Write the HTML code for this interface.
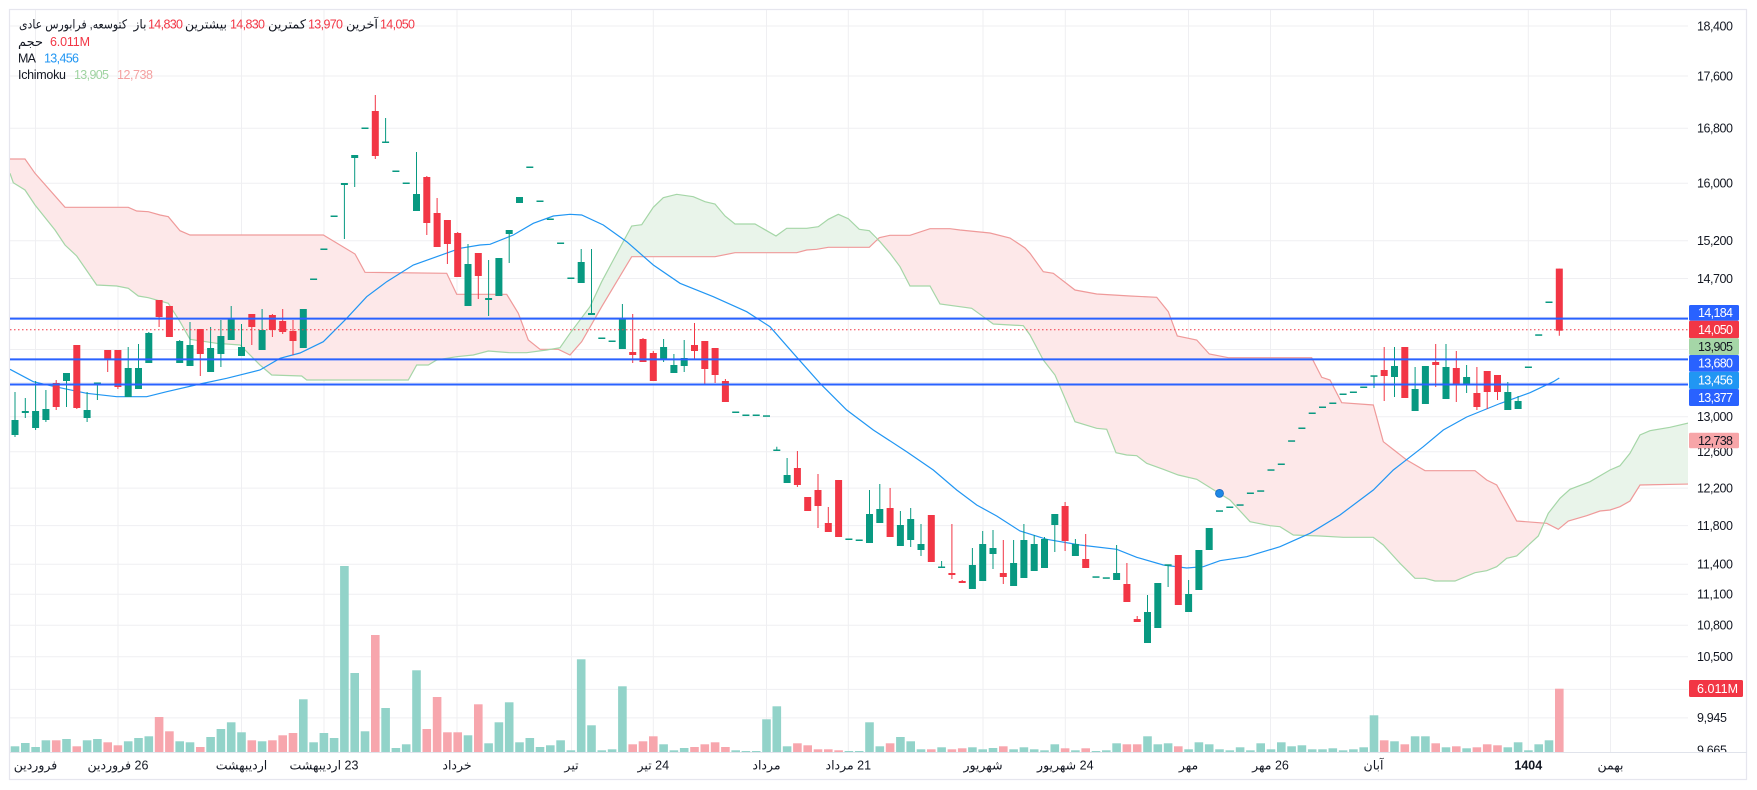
<!DOCTYPE html>
<html><head><meta charset="utf-8"><style>
html,body{margin:0;padding:0;background:#fff;}
svg{display:block;font-family:"Liberation Sans","DejaVu Sans",sans-serif;}
</style></head><body>
<svg width="1757" height="790" viewBox="0 0 1757 790" xmlns="http://www.w3.org/2000/svg">
<defs>
<clipPath id="plot"><rect x="10" y="10" width="1678" height="742"/></clipPath>
<clipPath id="axis"><rect x="1689" y="10" width="58" height="742"/></clipPath>
</defs>
<rect x="0" y="0" width="1757" height="790" fill="#fff"/>
<rect x="9.5" y="9.5" width="1737" height="770" fill="none" stroke="#e6e6ee" stroke-width="1.2"/>
<!-- grid -->
<g stroke="#efeff2" stroke-width="1">
<path d="M10 26H1688M10 76H1688M10 128.3H1688M10 183.2H1688M10 240.8H1688M10 278.5H1688M10 317.4H1688M10 349.5H1688M10 382.6H1688M10 416.7H1688M10 451.8H1688M10 488.1H1688M10 525.6H1688M10 564.3H1688M10 594.3H1688M10 625.2H1688M10 656.8H1688M10 689.4H1688M10 717.9H1688"/>
<path d="M35.5 10V752M118 10V752M241.5 10V752M324 10V752M457 10V752M571.5 10V752M653.3 10V752M766.5 10V752M848.3 10V752M983 10V752M1065.3 10V752M1188.5 10V752M1270.5 10V752M1373.5 10V752M1528.3 10V752M1610.5 10V752"/>
</g>
<line x1="10" y1="752.5" x2="1747" y2="752.5" stroke="#e0e3eb" stroke-width="1"/>
<g clip-path="url(#plot)">
<!-- cloud fills -->
<polygon fill="#fde8e9" points="10,159 25,159 35,173.3 65,207.3 128.3,207.3 136.7,211 148.3,211.7 160,215 168.3,216.7 180,230.7 190,235 323.3,235 355,254 365,272.3 446.7,273.3 456.7,294.3 506.7,294.3 518.3,313.3 528.3,340 540,349.3 555,349.3 546.7,350 526.7,352.7 510,352.7 488.3,351 473.3,355 456.7,356.7 436.7,360 428.3,365 416.7,365 408.3,380 306.7,380 301.7,376 271.7,375 260,365 240,345 216.7,343.3 190,339.3 180,321.7 168.3,303.3 148.3,297.7 138.3,296 128.3,288.3 116.7,286 96.7,285 76.7,256 65,245 55,230 35,205 25,190 13.3,182.7 10,173.3"/>
<polygon fill="#e9f4ea" points="555,349.3 560,347.7 570,333.3 590,306.7 601.7,281.7 613.3,260 631.7,226 641.7,224.7 653.3,207.3 663.3,197.7 676.7,194.3 693.3,196.7 705,201.7 715,204 725,216 735,224 755,224 776,236 786.7,228.3 806.7,228.3 818.3,226.7 828.3,219.3 838.3,214.3 848.3,218.7 859.3,229.3 869.3,230.7 876,239.5 869.3,247.3 828.3,247.3 816.7,249.3 806.7,250 796.7,252.7 735,252.7 715,256.7 631.7,256.7 621.7,273.3 601.7,306.7 581.7,341.7 570,355 558.3,349.3"/>
<polygon fill="#fde8e9" points="876,239.5 879.3,237.7 890,235.3 910,235.3 930,228.7 950,228.7 960,230 990,233 1010,238 1025,248 1030,253.3 1043.3,271.7 1053.3,273.3 1075,290 1096.7,294 1130,296 1156.7,297.3 1168.3,311.7 1177.3,336 1196.7,340 1209.3,354 1228.3,357.7 1311.7,357.7 1321.7,377.3 1330,380 1341.7,402.7 1373.3,405 1383.3,441.7 1406.7,460 1425,470.7 1475,470.7 1486.7,480 1496.7,485 1516.7,521 1538,522.5 1543,523 1538.3,536 1516.7,556 1506.7,558.3 1496.7,566.7 1486.7,570.7 1475,572.7 1455,581 1435,581 1425,578.3 1415,578.3 1400,563.3 1383.3,545 1373.3,537.3 1343.3,537.3 1320,536 1293.3,535 1280,526.7 1270,525.7 1250,521.7 1230,500 1216.7,491.7 1196.7,479.3 1178.3,475 1163.3,469.3 1146.7,463.3 1136.7,455.7 1126.7,455 1116,452.7 1106.7,429.3 1096.7,428.3 1075,421.7 1055,375 1043.3,360 1030,335 1023.3,325.7 993.3,324 983.3,316.7 971.7,308.3 940,304 930,286 910,286 900,266.7 890,253.3 880,241.7"/>
<polygon fill="#e9f4ea" points="1543,523 1548.3,513.3 1560,498.3 1570,489.3 1590,481.7 1610,470 1620,465.7 1630,453.3 1640,435 1650,430.7 1670,427.3 1690,422.7 1690,484 1640,485 1630,501 1620,506.7 1610,510 1600,511 1586.7,515.7 1568.3,521 1558.3,529.3 1546.7,523.3"/>
<!-- cloud lines -->
<polyline fill="none" stroke="#ef9a9a" stroke-width="1.2" points="10,159 25,159 35,173.3 65,207.3 128.3,207.3 136.7,211 148.3,211.7 160,215 168.3,216.7 180,230.7 190,235 323.3,235 355,254 365,272.3 446.7,273.3 456.7,294.3 506.7,294.3 518.3,313.3 528.3,340 540,349.3 558.3,349.3 570,355 581.7,341.7 601.7,306.7 621.7,273.3 631.7,256.7 715,256.7 735,252.7 796.7,252.7 806.7,250 816.7,249.3 828.3,247.3 869.3,247.3 879.3,237.7 890,235.3 910,235.3 930,228.7 950,228.7 960,230 990,233 1010,238 1025,248 1030,253.3 1043.3,271.7 1053.3,273.3 1075,290 1096.7,294 1130,296 1156.7,297.3 1168.3,311.7 1177.3,336 1196.7,340 1209.3,354 1228.3,357.7 1311.7,357.7 1321.7,377.3 1330,380 1341.7,402.7 1373.3,405 1383.3,441.7 1406.7,460 1425,470.7 1475,470.7 1486.7,480 1496.7,485 1516.7,521 1546.7,523.3 1558.3,529.3 1568.3,521 1586.7,515.7 1600,511 1610,510 1620,506.7 1630,501 1640,485 1690,484"/>
<polyline fill="none" stroke="#a5d6a7" stroke-width="1.2" points="10,173.3 13.3,182.7 25,190 35,205 55,230 65,245 76.7,256 96.7,285 116.7,286 128.3,288.3 138.3,296 148.3,297.7 168.3,303.3 180,321.7 190,339.3 216.7,343.3 240,345 260,365 271.7,375 301.7,376 306.7,380 408.3,380 416.7,365 428.3,365 436.7,360 456.7,356.7 473.3,355 488.3,351 510,352.7 526.7,352.7 546.7,350 560,347.7 570,333.3 590,306.7 601.7,281.7 613.3,260 631.7,226 641.7,224.7 653.3,207.3 663.3,197.7 676.7,194.3 693.3,196.7 705,201.7 715,204 725,216 735,224 755,224 776,236 786.7,228.3 806.7,228.3 818.3,226.7 828.3,219.3 838.3,214.3 848.3,218.7 859.3,229.3 869.3,230.7 880,241.7 890,253.3 900,266.7 910,286 930,286 940,304 971.7,308.3 983.3,316.7 993.3,324 1023.3,325.7 1030,335 1043.3,360 1055,375 1075,421.7 1096.7,428.3 1106.7,429.3 1116,452.7 1126.7,455 1136.7,455.7 1146.7,463.3 1163.3,469.3 1178.3,475 1196.7,479.3 1216.7,491.7 1230,500 1250,521.7 1270,525.7 1280,526.7 1293.3,535 1320,536 1343.3,537.3 1373.3,537.3 1383.3,545 1400,563.3 1415,578.3 1425,578.3 1435,581 1455,581 1475,572.7 1486.7,570.7 1496.7,566.7 1506.7,558.3 1516.7,556 1538.3,536 1548.3,513.3 1560,498.3 1570,489.3 1590,481.7 1610,470 1620,465.7 1630,453.3 1640,435 1650,430.7 1670,427.3 1690,422.7"/>
<!-- volume -->
<g fill="#92d3c9">
<rect x="10.7" y="746.3" width="8.6" height="5.7"/><rect x="21" y="743" width="8.6" height="9"/><rect x="31.3" y="747" width="8.6" height="5"/><rect x="41.6" y="740.3" width="8.6" height="11.7"/><rect x="62.2" y="739" width="8.6" height="13"/><rect x="82.8" y="740.3" width="8.6" height="11.7"/><rect x="93.1" y="739" width="8.6" height="13"/><rect x="123.9" y="741.3" width="8.6" height="10.7"/><rect x="134.2" y="738" width="8.6" height="14"/><rect x="144.5" y="736.3" width="8.6" height="15.7"/><rect x="175.4" y="741.3" width="8.6" height="10.7"/><rect x="185.7" y="742.3" width="8.6" height="9.7"/><rect x="206.3" y="737" width="8.6" height="15"/><rect x="216.6" y="729" width="8.6" height="23"/><rect x="226.9" y="722.3" width="8.6" height="29.7"/><rect x="237.2" y="732.3" width="8.6" height="19.7"/><rect x="257.8" y="741.3" width="8.6" height="10.7"/><rect x="299" y="699.3" width="8.6" height="52.7"/><rect x="309.3" y="742.3" width="8.6" height="9.7"/><rect x="319.6" y="733" width="8.6" height="19"/><rect x="329.8" y="738" width="8.6" height="14"/><rect x="340.1" y="566" width="8.6" height="186"/><rect x="350.4" y="673" width="8.6" height="79"/><rect x="360.7" y="731.3" width="8.6" height="20.7"/><rect x="381.3" y="708" width="8.6" height="44"/><rect x="391.6" y="748" width="8.6" height="4"/><rect x="401.9" y="744.3" width="8.6" height="7.7"/><rect x="412.2" y="670.3" width="8.6" height="81.7"/><rect x="463.7" y="735.3" width="8.6" height="16.7"/><rect x="484.3" y="743.3" width="8.6" height="8.7"/><rect x="494.6" y="722.3" width="8.6" height="29.7"/><rect x="504.9" y="702.3" width="8.6" height="49.7"/><rect x="515.2" y="742.3" width="8.6" height="9.7"/><rect x="525.5" y="738" width="8.6" height="14"/><rect x="535.7" y="747" width="8.6" height="5"/><rect x="546" y="745.3" width="8.6" height="6.7"/><rect x="556.3" y="740.3" width="8.6" height="11.7"/><rect x="566.6" y="750.3" width="8.6" height="1.7"/><rect x="576.9" y="659.3" width="8.6" height="92.7"/><rect x="587.2" y="725.3" width="8.6" height="26.7"/><rect x="597.5" y="750.3" width="8.6" height="1.7"/><rect x="607.8" y="749.3" width="8.6" height="2.7"/><rect x="618.1" y="686.3" width="8.6" height="65.7"/><rect x="659.3" y="744.3" width="8.6" height="7.7"/><rect x="669.6" y="750.3" width="8.6" height="1.7"/><rect x="679.9" y="748" width="8.6" height="4"/><rect x="731.4" y="750.3" width="8.6" height="1.7"/><rect x="741.6" y="751" width="8.6" height="1"/><rect x="751.9" y="751" width="8.6" height="1"/><rect x="762.2" y="719.3" width="8.6" height="32.7"/><rect x="772.5" y="706.3" width="8.6" height="45.7"/><rect x="782.8" y="746.3" width="8.6" height="5.7"/><rect x="844.6" y="751" width="8.6" height="1"/><rect x="854.9" y="751" width="8.6" height="1"/><rect x="865.2" y="722.3" width="8.6" height="29.7"/><rect x="875.5" y="746.3" width="8.6" height="5.7"/><rect x="896.1" y="737" width="8.6" height="15"/><rect x="906.4" y="741.3" width="8.6" height="10.7"/><rect x="916.7" y="749.3" width="8.6" height="2.7"/><rect x="937.3" y="747.3" width="8.6" height="4.7"/><rect x="968.1" y="747.3" width="8.6" height="4.7"/><rect x="978.4" y="749.3" width="8.6" height="2.7"/><rect x="988.7" y="748" width="8.6" height="4"/><rect x="1009.3" y="749.3" width="8.6" height="2.7"/><rect x="1019.6" y="747.3" width="8.6" height="4.7"/><rect x="1029.9" y="749.3" width="8.6" height="2.7"/><rect x="1040.2" y="750.3" width="8.6" height="1.7"/><rect x="1050.5" y="744.3" width="8.6" height="7.7"/><rect x="1071.1" y="750.3" width="8.6" height="1.7"/><rect x="1091.7" y="751" width="8.6" height="1"/><rect x="1102" y="750.3" width="8.6" height="1.7"/><rect x="1112.3" y="743.3" width="8.6" height="8.7"/><rect x="1143.2" y="736.3" width="8.6" height="15.7"/><rect x="1153.5" y="744.3" width="8.6" height="7.7"/><rect x="1163.8" y="743.3" width="8.6" height="8.7"/><rect x="1184.3" y="749.3" width="8.6" height="2.7"/><rect x="1194.6" y="742.3" width="8.6" height="9.7"/><rect x="1204.9" y="744.3" width="8.6" height="7.7"/><rect x="1215.2" y="749.3" width="8.6" height="2.7"/><rect x="1225.5" y="750.3" width="8.6" height="1.7"/><rect x="1235.8" y="747.3" width="8.6" height="4.7"/><rect x="1246.1" y="750.3" width="8.6" height="1.7"/><rect x="1256.4" y="743.3" width="8.6" height="8.7"/><rect x="1266.7" y="749.3" width="8.6" height="2.7"/><rect x="1277" y="742.3" width="8.6" height="9.7"/><rect x="1287.3" y="746.3" width="8.6" height="5.7"/><rect x="1297.6" y="745.3" width="8.6" height="6.7"/><rect x="1307.9" y="749.3" width="8.6" height="2.7"/><rect x="1318.2" y="749.3" width="8.6" height="2.7"/><rect x="1328.5" y="748.3" width="8.6" height="3.7"/><rect x="1338.8" y="750.3" width="8.6" height="1.7"/><rect x="1349.1" y="749.3" width="8.6" height="2.7"/><rect x="1359.4" y="747.3" width="8.6" height="4.7"/><rect x="1369.7" y="715.3" width="8.6" height="36.7"/><rect x="1390.2" y="741.3" width="8.6" height="10.7"/><rect x="1410.8" y="736.3" width="8.6" height="15.7"/><rect x="1421.1" y="736.3" width="8.6" height="15.7"/><rect x="1441.7" y="747.3" width="8.6" height="4.7"/><rect x="1462.3" y="748.3" width="8.6" height="3.7"/><rect x="1503.5" y="747.3" width="8.6" height="4.7"/><rect x="1513.8" y="742.3" width="8.6" height="9.7"/><rect x="1524.1" y="750.3" width="8.6" height="1.7"/><rect x="1534.4" y="744.3" width="8.6" height="7.7"/><rect x="1544.7" y="740.3" width="8.6" height="11.7"/>
</g>
<g fill="#f7a6ad">
<rect x="51.9" y="740.3" width="8.6" height="11.7"/><rect x="72.5" y="746.3" width="8.6" height="5.7"/><rect x="103.4" y="742.3" width="8.6" height="9.7"/><rect x="113.6" y="745.3" width="8.6" height="6.7"/><rect x="154.8" y="717" width="8.6" height="35"/><rect x="165.1" y="731.3" width="8.6" height="20.7"/><rect x="196" y="747" width="8.6" height="5"/><rect x="247.5" y="740.3" width="8.6" height="11.7"/><rect x="268.1" y="740.3" width="8.6" height="11.7"/><rect x="278.4" y="735.3" width="8.6" height="16.7"/><rect x="288.7" y="733" width="8.6" height="19"/><rect x="371" y="635" width="8.6" height="117"/><rect x="422.5" y="729" width="8.6" height="23"/><rect x="432.8" y="697" width="8.6" height="55"/><rect x="443.1" y="732.3" width="8.6" height="19.7"/><rect x="453.4" y="732.3" width="8.6" height="19.7"/><rect x="474" y="704.3" width="8.6" height="47.7"/><rect x="628.4" y="744.3" width="8.6" height="7.7"/><rect x="638.7" y="741.3" width="8.6" height="10.7"/><rect x="649" y="736.3" width="8.6" height="15.7"/><rect x="690.2" y="747" width="8.6" height="5"/><rect x="700.5" y="744.3" width="8.6" height="7.7"/><rect x="710.8" y="742.3" width="8.6" height="9.7"/><rect x="721.1" y="747" width="8.6" height="5"/><rect x="793.1" y="743.3" width="8.6" height="8.7"/><rect x="803.4" y="745.3" width="8.6" height="6.7"/><rect x="813.7" y="749.3" width="8.6" height="2.7"/><rect x="824" y="749.3" width="8.6" height="2.7"/><rect x="834.3" y="750.3" width="8.6" height="1.7"/><rect x="885.8" y="743.3" width="8.6" height="8.7"/><rect x="927" y="749.3" width="8.6" height="2.7"/><rect x="947.6" y="749.3" width="8.6" height="2.7"/><rect x="957.9" y="748.3" width="8.6" height="3.7"/><rect x="999" y="746.3" width="8.6" height="5.7"/><rect x="1060.8" y="748.3" width="8.6" height="3.7"/><rect x="1081.4" y="748.3" width="8.6" height="3.7"/><rect x="1122.6" y="744.3" width="8.6" height="7.7"/><rect x="1132.9" y="744.3" width="8.6" height="7.7"/><rect x="1174" y="746.3" width="8.6" height="5.7"/><rect x="1379.9" y="740.3" width="8.6" height="11.7"/><rect x="1400.5" y="744.3" width="8.6" height="7.7"/><rect x="1431.4" y="743.3" width="8.6" height="8.7"/><rect x="1452" y="746.3" width="8.6" height="5.7"/><rect x="1472.6" y="747.3" width="8.6" height="4.7"/><rect x="1482.9" y="744.3" width="8.6" height="7.7"/><rect x="1493.2" y="745.3" width="8.6" height="6.7"/><rect x="1555" y="688.7" width="8.6" height="63.3"/>
</g>
<!-- MA -->
<polyline fill="none" stroke="#2196f3" stroke-width="1.2" points="10,369.3 33.3,381.7 55,386.7 86.7,393.3 116.7,396.7 146.7,396.7 166.7,391.7 200,384 226.7,378.3 260,370 280,358.3 300,353 323.3,341.7 346.7,318.3 366.7,296.7 386.7,281.7 413.3,265 436.7,256.7 460,248.3 480,245 490,244.3 513.3,235 533.3,223.3 553.3,216 570,214.3 581.7,215 603.3,225 626.7,241.7 653.3,265 680,283.3 713.3,296.7 746.7,311.7 770,326.7 793.3,353.3 820,383.3 846.7,410 873.3,430 906.7,451.7 933.3,470 956.7,490 976.7,505 996.7,516 1020,531 1046.7,539.3 1080,545 1116.7,549.3 1136.7,557.3 1163.3,565 1186.7,568 1203.3,566.7 1220,560.7 1246.7,556.7 1280,546.7 1310,533.3 1340,515 1373.3,490 1393.3,470 1423.3,446.7 1443.3,430 1466.7,417 1500,403.5 1530,392.7 1553.3,381.7 1559.3,378"/>
<!-- candles green -->
<path fill="none" stroke="#089981" stroke-width="1" d="M15 392V437M25.3 398V418M35.6 381V430M45.9 390V422M66.5 373V407M87.1 392V422M97.4 383V400M128.2 347V397M138.5 344V389M148.8 332V363M179.7 340V363M190 322V366M210.6 327V372M220.9 320V367M231.2 306V340M241.5 324V356M262.1 309V350M344.4 183V239M354.7 155V187M385.6 118V143M416.5 152V211M468 244V306M488.6 260V316M509.2 230V263M581.2 249V283M591.5 249V315M622.4 304V349M663.6 339V362M673.9 354V373M684.2 340V372M776.8 446.7V450.3M787.1 458V483M869.5 490V543M879.8 484V523M900.4 511V546M910.7 508V547M921 524V556M941.6 561V567M972.4 548V589M982.7 531V581M993 530V569M1013.6 540V586M1023.9 524V578M1034.2 535V571M1044.5 537V568M1054.8 514V552M1075.4 539V556M1116.6 545V580M1147.5 595V643M1168.1 565V587M1188.6 580V612M1374 376V388M1394.5 347V397M1415.1 367V411M1446 344V399M1466.6 365V393M1507.8 382V410M1518.1 396V409"/>
<g fill="#089981">
<rect x="11.5" y="420" width="7" height="15"/><rect x="21.8" y="411" width="7" height="2"/><rect x="32.1" y="411" width="7" height="17"/><rect x="42.4" y="409" width="7" height="11"/><rect x="63" y="373" width="7" height="8"/><rect x="83.6" y="410" width="7" height="8"/><rect x="93.9" y="382.5" width="7" height="1.5"/><rect x="124.7" y="368" width="7" height="29"/><rect x="135" y="368" width="7" height="21"/><rect x="145.3" y="333" width="7" height="30"/><rect x="176.2" y="341" width="7" height="22"/><rect x="186.5" y="345" width="7" height="21"/><rect x="207.1" y="348" width="7" height="24"/><rect x="217.4" y="336" width="7" height="18"/><rect x="227.7" y="319" width="7" height="21"/><rect x="238" y="347" width="7" height="9"/><rect x="258.6" y="330" width="7" height="20"/><rect x="299.8" y="309" width="7" height="39"/><rect x="310.1" y="278.5" width="7" height="1.5"/><rect x="320.4" y="248.5" width="7" height="1.5"/><rect x="330.6" y="215.5" width="7" height="1.5"/><rect x="340.9" y="183" width="7" height="2"/><rect x="351.2" y="155" width="7" height="3"/><rect x="361.5" y="127.5" width="7" height="1.5"/><rect x="382.1" y="141.5" width="7" height="1.5"/><rect x="392.4" y="170.5" width="7" height="1.5"/><rect x="402.7" y="182.5" width="7" height="1.5"/><rect x="413" y="194" width="7" height="17"/><rect x="464.5" y="264" width="7" height="42"/><rect x="485.1" y="298" width="7" height="2"/><rect x="495.4" y="258" width="7" height="38"/><rect x="505.7" y="230" width="7" height="4"/><rect x="516" y="197" width="7" height="6"/><rect x="526.3" y="166.5" width="7" height="1.5"/><rect x="536.5" y="200.5" width="7" height="1.5"/><rect x="546.8" y="218.5" width="7" height="1.5"/><rect x="557.1" y="242.5" width="7" height="1.5"/><rect x="567.4" y="277.5" width="7" height="1.5"/><rect x="577.7" y="262" width="7" height="21"/><rect x="588" y="313" width="7" height="2"/><rect x="598.3" y="337.5" width="7" height="1.5"/><rect x="608.6" y="340.5" width="7" height="1.5"/><rect x="618.9" y="318" width="7" height="31"/><rect x="660.1" y="347" width="7" height="13"/><rect x="670.4" y="365" width="7" height="8"/><rect x="680.7" y="358" width="7" height="8"/><rect x="732.2" y="411.5" width="7" height="1.5"/><rect x="742.4" y="414.5" width="7" height="1.5"/><rect x="752.7" y="414.5" width="7" height="1.5"/><rect x="763" y="415.3" width="7" height="1.5"/><rect x="773.3" y="449.5" width="7" height="1.5"/><rect x="783.6" y="475" width="7" height="8"/><rect x="845.4" y="538.5" width="7" height="1.5"/><rect x="855.7" y="539.5" width="7" height="1.5"/><rect x="866" y="514" width="7" height="29"/><rect x="876.3" y="509" width="7" height="14"/><rect x="896.9" y="525" width="7" height="21"/><rect x="907.2" y="519" width="7" height="21"/><rect x="917.5" y="544" width="7" height="6"/><rect x="938.1" y="566.5" width="7" height="1.5"/><rect x="968.9" y="565" width="7" height="24"/><rect x="979.2" y="544" width="7" height="37"/><rect x="989.5" y="548" width="7" height="6"/><rect x="1010.1" y="563" width="7" height="23"/><rect x="1020.4" y="540" width="7" height="38"/><rect x="1030.7" y="544" width="7" height="27"/><rect x="1041" y="539" width="7" height="29"/><rect x="1051.3" y="514" width="7" height="11"/><rect x="1071.9" y="544" width="7" height="12"/><rect x="1092.5" y="576.3" width="7" height="1.5"/><rect x="1102.8" y="577.3" width="7" height="1.5"/><rect x="1113.1" y="573" width="7" height="7"/><rect x="1144" y="612" width="7" height="31"/><rect x="1154.3" y="583" width="7" height="45"/><rect x="1164.6" y="564.3" width="7" height="1.5"/><rect x="1185.1" y="594" width="7" height="18"/><rect x="1195.4" y="550" width="7" height="40"/><rect x="1205.7" y="528" width="7" height="22"/><rect x="1216" y="510.3" width="7" height="1.5"/><rect x="1226.3" y="506.5" width="7" height="1.5"/><rect x="1236.6" y="504.3" width="7" height="1.5"/><rect x="1246.9" y="492.5" width="7" height="1.5"/><rect x="1257.2" y="490.3" width="7" height="1.5"/><rect x="1267.5" y="469.3" width="7" height="1.5"/><rect x="1277.8" y="463.5" width="7" height="1.5"/><rect x="1288.1" y="440.3" width="7" height="1.5"/><rect x="1298.4" y="427.5" width="7" height="1.5"/><rect x="1308.7" y="412.5" width="7" height="1.5"/><rect x="1319" y="406.5" width="7" height="1.5"/><rect x="1329.3" y="402.5" width="7" height="1.5"/><rect x="1339.6" y="393.5" width="7" height="1.5"/><rect x="1349.9" y="391.5" width="7" height="1.5"/><rect x="1360.2" y="386.5" width="7" height="1.5"/><rect x="1370.5" y="375.3" width="7" height="1.5"/><rect x="1391" y="366" width="7" height="11"/><rect x="1411.6" y="389" width="7" height="22"/><rect x="1421.9" y="366" width="7" height="38"/><rect x="1442.5" y="367" width="7" height="32"/><rect x="1463.1" y="377" width="7" height="7"/><rect x="1504.3" y="392" width="7" height="18"/><rect x="1514.6" y="401" width="7" height="8"/><rect x="1524.9" y="366.5" width="7" height="1.5"/><rect x="1535.2" y="334.3" width="7" height="1.5"/><rect x="1545.5" y="301.5" width="7" height="1.5"/>
</g>
<!-- candles red -->
<path fill="none" stroke="#f23645" stroke-width="1" d="M56.2 380V410M76.8 345V409M107.7 350V372M117.9 350V389M159.1 300V327M200.3 329V376M251.8 314V345M272.4 314V337M282.7 309V334M293 320V355M375.3 95V159M426.8 176V235M437.1 198V247M447.4 220V264M457.7 232V277M478.3 253V299M632.7 314V363M643 338V362M653.3 351V381M694.5 323V359M704.8 341V384M715.1 348V383M725.4 379V402M797.4 451V487M818 474V528M828.3 507V532M890.1 488V537M951.9 524V579M962.2 580V583M1003.3 540V584M1065.1 502V551M1085.7 534V568M1126.9 563V602M1137.2 616V622M1384.2 347V401M1435.7 344V387M1456.3 351V402M1476.9 367V410M1487.2 371V409M1497.5 375V400M1559.3 268.6V335.7"/>
<g fill="#f23645">
<rect x="52.7" y="383" width="7" height="24"/><rect x="73.3" y="345" width="7" height="63"/><rect x="104.2" y="350" width="7" height="9"/><rect x="114.4" y="350" width="7" height="37"/><rect x="155.6" y="300" width="7" height="17"/><rect x="165.9" y="306" width="7" height="31"/><rect x="196.8" y="329" width="7" height="25"/><rect x="248.3" y="314" width="7" height="13"/><rect x="268.9" y="315" width="7" height="15"/><rect x="279.2" y="321" width="7" height="11"/><rect x="289.5" y="331" width="7" height="10"/><rect x="371.8" y="111" width="7" height="45"/><rect x="423.3" y="177" width="7" height="46"/><rect x="433.6" y="213" width="7" height="34"/><rect x="443.9" y="220" width="7" height="24"/><rect x="454.2" y="233" width="7" height="44"/><rect x="474.8" y="253" width="7" height="23"/><rect x="629.2" y="352" width="7" height="3"/><rect x="639.5" y="339" width="7" height="23"/><rect x="649.8" y="353" width="7" height="28"/><rect x="691" y="345" width="7" height="6"/><rect x="701.3" y="341" width="7" height="28"/><rect x="711.6" y="348" width="7" height="27"/><rect x="721.9" y="381" width="7" height="21"/><rect x="793.9" y="468" width="7" height="17"/><rect x="804.2" y="497" width="7" height="14"/><rect x="814.5" y="490" width="7" height="16"/><rect x="824.8" y="523" width="7" height="9"/><rect x="835.1" y="480" width="7" height="57"/><rect x="886.6" y="508" width="7" height="29"/><rect x="927.8" y="515" width="7" height="47"/><rect x="948.4" y="573" width="7" height="2"/><rect x="958.7" y="581" width="7" height="2"/><rect x="999.8" y="573" width="7" height="4"/><rect x="1061.6" y="506" width="7" height="35"/><rect x="1082.2" y="559" width="7" height="9"/><rect x="1123.4" y="584" width="7" height="18"/><rect x="1133.7" y="619" width="7" height="3"/><rect x="1174.8" y="555" width="7" height="50"/><rect x="1380.7" y="370" width="7" height="6"/><rect x="1401.3" y="347" width="7" height="51"/><rect x="1432.2" y="362" width="7" height="3"/><rect x="1452.8" y="368" width="7" height="16"/><rect x="1473.4" y="393" width="7" height="14"/><rect x="1483.7" y="371" width="7" height="21"/><rect x="1494" y="375" width="7" height="17"/><rect x="1555.8" y="268.6" width="7" height="62.1"/>
</g>
<!-- horizontal drawings -->
<g stroke="#2962ff" stroke-width="2">
<line x1="10" y1="318.6" x2="1688" y2="318.6"/>
<line x1="10" y1="359.4" x2="1688" y2="359.4"/>
<line x1="10" y1="384.5" x2="1688" y2="384.5"/>
</g>
<line x1="10" y1="329.8" x2="1688" y2="329.8" stroke="#f23645" stroke-width="1" stroke-dasharray="1.5 2.5"/>
<circle cx="1219.5" cy="493.4" r="4" fill="#1e88e5" stroke="#1565c0" stroke-width="0.8"/>
</g>
<!-- price axis -->
<g clip-path="url(#axis)" fill="#131722" font-size="12.5">
<text x="1697" y="30.3" textLength="36">18,400</text>
<text x="1697" y="80.3" textLength="36">17,600</text>
<text x="1697" y="132.6" textLength="36">16,800</text>
<text x="1697" y="187.5" textLength="36">16,000</text>
<text x="1697" y="245.1" textLength="36">15,200</text>
<text x="1697" y="282.8" textLength="36">14,700</text>
<text x="1697" y="421" textLength="36">13,000</text>
<text x="1697" y="456.1" textLength="36">12,600</text>
<text x="1697" y="492.4" textLength="36">12,200</text>
<text x="1697" y="529.9" textLength="36">11,800</text>
<text x="1697" y="568.6" textLength="36">11,400</text>
<text x="1697" y="598.6" textLength="36">11,100</text>
<text x="1697" y="629.5" textLength="36">10,800</text>
<text x="1697" y="661.1" textLength="36">10,500</text>
<text x="1697" y="722.2" textLength="30">9,945</text>
<text x="1697" y="754.3" textLength="30">9,665</text>
</g>
<!-- axis boxes -->
<g font-size="12.5">
<rect x="1689" y="305" width="50" height="15.7" rx="1.5" fill="#2962ff"/><text x="1698" y="317.2" fill="#fff" textLength="35">14,184</text>
<rect x="1689" y="320.7" width="50" height="17.6" rx="1.5" fill="#f23645"/><text x="1698" y="333.8" fill="#fff" textLength="35">14,050</text>
<rect x="1689" y="338.3" width="50" height="16.7" rx="1.5" fill="#a5d6a7"/><text x="1698" y="350.9" fill="#131722" textLength="35">13,905</text>
<rect x="1689" y="355" width="50" height="16.7" rx="1.5" fill="#2962ff"/><text x="1698" y="367.6" fill="#fff" textLength="35">13,680</text>
<rect x="1689" y="371.7" width="50" height="17.3" rx="1.5" fill="#2196f3"/><text x="1698" y="384.6" fill="#fff" textLength="35">13,456</text>
<rect x="1689" y="389" width="50" height="17" rx="1.5" fill="#2962ff"/><text x="1698" y="401.8" fill="#fff" textLength="35">13,377</text>
<rect x="1689" y="432.7" width="50" height="15.6" rx="1.5" fill="#f7a5a8"/><text x="1698" y="444.8" fill="#131722" textLength="35">12,738</text>
<rect x="1689" y="680" width="54" height="17" rx="1.5" fill="#f23645"/><text x="1697" y="692.8" fill="#fff" textLength="41">6.011M</text>
</g>
<!-- time axis -->
<g fill="#131722" font-size="12.5" text-anchor="middle">
<text x="35.5" y="769.5" direction="rtl">فروردین</text>
<text x="118" y="769.5" direction="rtl">26 فروردین</text>
<text x="241.5" y="769.5" direction="rtl">اردیبهشت</text>
<text x="324" y="769.5" direction="rtl">23 اردیبهشت</text>
<text x="457" y="769.5" direction="rtl">خرداد</text>
<text x="571.5" y="769.5" direction="rtl">تیر</text>
<text x="653.3" y="769.5" direction="rtl">24 تیر</text>
<text x="766.5" y="769.5" direction="rtl">مرداد</text>
<text x="848.3" y="769.5" direction="rtl">21 مرداد</text>
<text x="983" y="769.5" direction="rtl">شهریور</text>
<text x="1065.3" y="769.5" direction="rtl">24 شهریور</text>
<text x="1188.5" y="769.5" direction="rtl">مهر</text>
<text x="1270.5" y="769.5" direction="rtl">26 مهر</text>
<text x="1373.5" y="769.5" direction="rtl">آبان</text>
<text x="1528.3" y="769.5" font-weight="bold">1404</text>
<text x="1610.5" y="769.5" direction="rtl">بهمن</text>
</g>
<!-- legend -->
<g fill="#131722" font-size="12.5">
<text x="73" y="28.5" text-anchor="middle" direction="rtl" textLength="108" lengthAdjust="spacingAndGlyphs">کتوسعه, فرابورس عادی</text>
<text x="140" y="28.5" text-anchor="middle" direction="rtl" textLength="13" lengthAdjust="spacingAndGlyphs">باز</text>
<text x="148" y="28.5" fill="#f23645" textLength="35">14,830</text>
<text x="206" y="28.5" text-anchor="middle" direction="rtl" textLength="42" lengthAdjust="spacingAndGlyphs">بیشترین</text>
<text x="230" y="28.5" fill="#f23645" textLength="35">14,830</text>
<text x="287" y="28.5" text-anchor="middle" direction="rtl" textLength="38" lengthAdjust="spacingAndGlyphs">کمترین</text>
<text x="308" y="28.5" fill="#f23645" textLength="35">13,970</text>
<text x="362" y="28.5" text-anchor="middle" direction="rtl" textLength="32" lengthAdjust="spacingAndGlyphs">آخرین</text>
<text x="380" y="28.5" fill="#f23645" textLength="35">14,050</text>
<text x="30.5" y="46" text-anchor="middle" direction="rtl" textLength="25" lengthAdjust="spacingAndGlyphs">حجم</text>
<text x="50" y="46" fill="#f23645" textLength="40">6.011M</text>
<text x="18" y="62.5" textLength="18">MA</text>
<text x="44" y="62.5" fill="#2196f3" textLength="35">13,456</text>
<text x="18" y="79" textLength="48">Ichimoku</text>
<text x="74" y="79" fill="#9fd3a1" textLength="35">13,905</text>
<text x="117" y="79" fill="#f4a1a1" textLength="36">12,738</text>
</g>
</svg>
</body></html>
